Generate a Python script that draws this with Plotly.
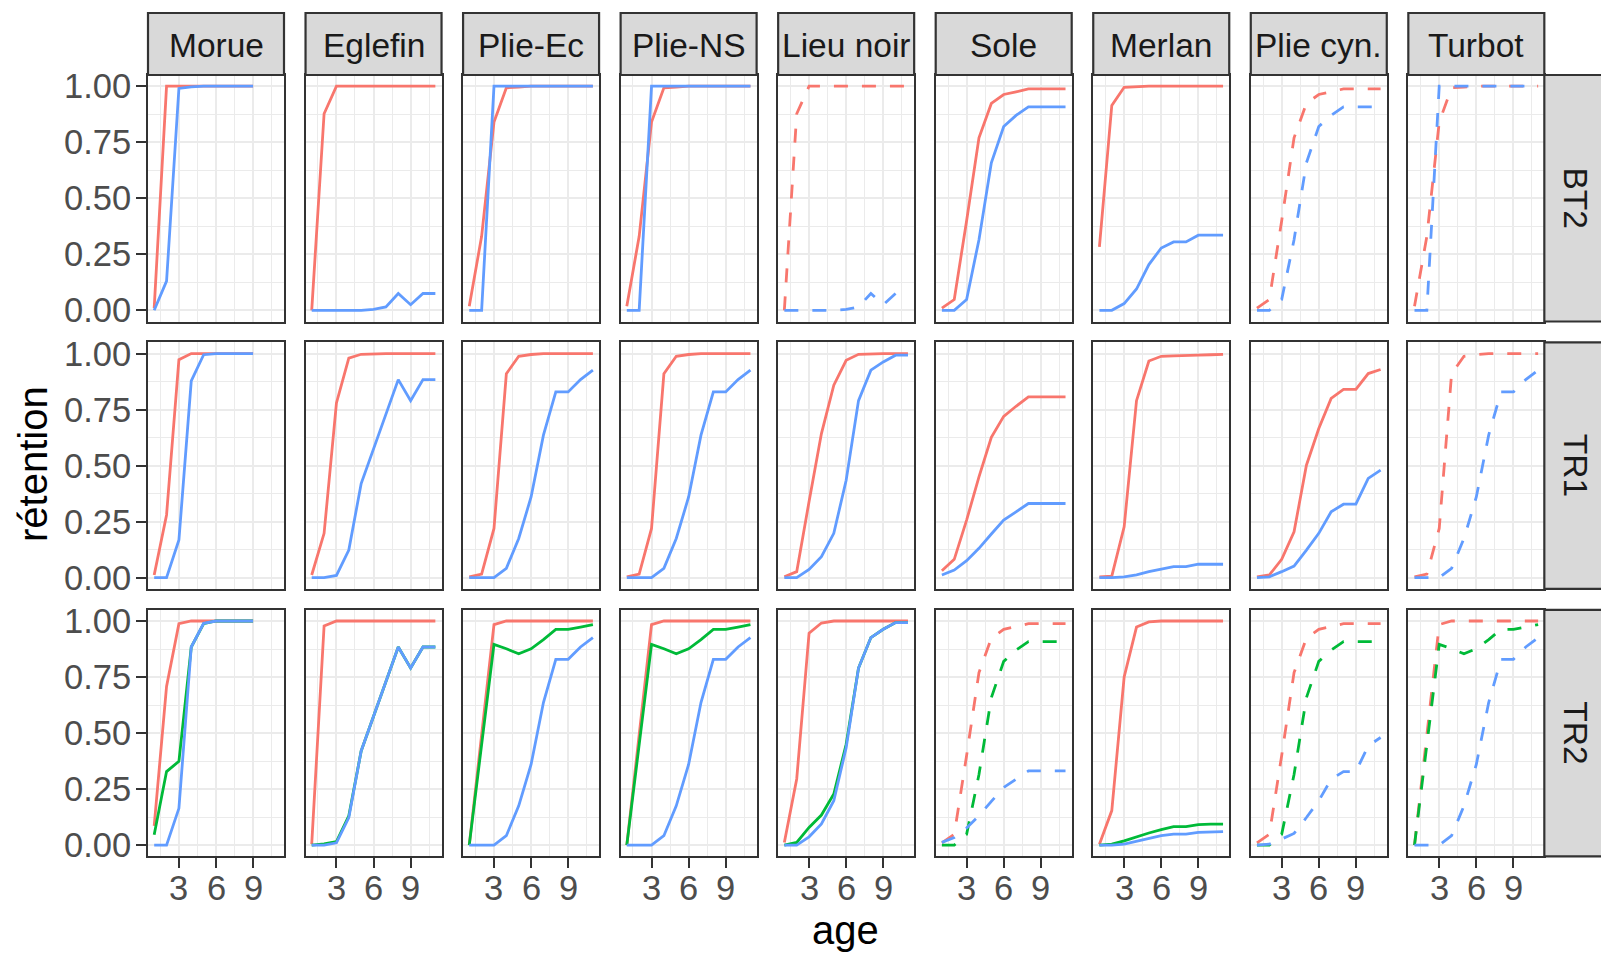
import plotly.graph_objects as go

W, H = 1601, 953

SPECIES = ["Morue", "Eglefin", "Plie-Ec", "Plie-NS", "Lieu noir", "Sole", "Merlan", "Plie cyn.", "Turbot"]
ENGINS = ["BT2", "TR1", "TR2"]
AGE9 = [1, 2, 3, 4, 5, 6, 7, 8, 9]
AGE11 = [1, 2, 3, 4, 5, 6, 7, 8, 9, 10, 11]
X_TICKS = [3, 6, 9]
X_TICK_LABELS = ["3", "6", "9"]
Y_TICKS = [0, 0.25, 0.5, 0.75, 1.0]
Y_TICK_LABELS = ["0.00", "0.25", "0.50", "0.75", "1.00"]

RED, GREEN, BLUE = "#F8766D", "#00BA38", "#619CFF"

# ---- Morue (ages 1-9)
MORUE_BT2_R = [0.01, 1.0, 1.0, 1.0, 1.0, 1.0, 1.0, 1.0, 1.0]
MORUE_BT2_B = [0.0, 0.13, 0.99, 0.997, 1.0, 1.0, 1.0, 1.0, 1.0]
MORUE_TR1_R = [0.012, 0.28, 0.973, 1.0, 1.0, 1.0, 1.0, 1.0, 1.0]
MORUE_TR1_B = [0.0, 0.0, 0.168, 0.878, 0.995, 1.0, 1.0, 1.0, 1.0]
MORUE_TR2_R = [0.086, 0.708, 0.988, 1.0, 1.0, 1.0, 1.0, 1.0, 1.0]
MORUE_TR2_G = [0.046, 0.328, 0.374, 0.884, 0.988, 1.0, 1.0, 1.0, 1.0]
MORUE_TR2_B = [0.0, 0.0, 0.164, 0.884, 0.99, 1.0, 1.0, 1.0, 1.0]

# ---- Eglefin
EGLEFIN_BT2_R = [0.0, 0.877, 1.0, 1.0, 1.0, 1.0, 1.0, 1.0, 1.0, 1.0, 1.0]
EGLEFIN_BT2_B = [0.0, 0.0, 0.0, 0.0, 0.0, 0.004, 0.015, 0.075, 0.025, 0.075, 0.075]
EGLEFIN_TR1_R = [0.012, 0.198, 0.78, 0.98, 0.997, 1.0, 1.0, 1.0, 1.0, 1.0, 1.0]
EGLEFIN_TR1_B = [0.0, 0.0, 0.01, 0.123, 0.42, 0.575, 0.73, 0.884, 0.79, 0.884, 0.884]
EGLEFIN_TR2_R = [0.004, 0.978, 1.0, 1.0, 1.0, 1.0, 1.0, 1.0, 1.0, 1.0, 1.0]
EGLEFIN_TR2_G = [0.0, 0.005, 0.016, 0.131, 0.42, 0.575, 0.73, 0.884, 0.79, 0.884, 0.884]
EGLEFIN_TR2_B = [0.0, 0.0, 0.01, 0.123, 0.42, 0.575, 0.73, 0.884, 0.79, 0.884, 0.884]

# ---- Plie-Ec
PLIEEC_BT2_R = [0.018, 0.33, 0.84, 0.993, 0.996, 1.0, 1.0, 1.0, 1.0, 1.0, 1.0]
PLIEEC_BT2_B = [0.0, 0.0, 1.0, 1.0, 1.0, 1.0, 1.0, 1.0, 1.0, 1.0, 1.0]
PLIEEC_TR1_R = [0.004, 0.016, 0.22, 0.91, 0.988, 0.996, 1.0, 1.0, 1.0, 1.0, 1.0]
PLIEEC_TR1_B = [0.0, 0.0, 0.0, 0.042, 0.175, 0.36, 0.636, 0.829, 0.829, 0.884, 0.926]
PLIEEC_TR2_R = [0.0, 0.49, 0.984, 1.0, 1.0, 1.0, 1.0, 1.0, 1.0, 1.0, 1.0]
PLIEEC_TR2_G = [0.0, 0.45, 0.896, 0.876, 0.854, 0.876, 0.917, 0.963, 0.963, 0.973, 0.984]
PLIEEC_TR2_B = [0.0, 0.0, 0.0, 0.042, 0.175, 0.36, 0.636, 0.829, 0.829, 0.884, 0.926]

# ---- Plie-NS
PLIENS_BT2_R = [0.018, 0.33, 0.84, 0.993, 0.996, 1.0, 1.0, 1.0, 1.0, 1.0, 1.0]
PLIENS_BT2_B = [0.0, 0.0, 1.0, 1.0, 1.0, 1.0, 1.0, 1.0, 1.0, 1.0, 1.0]
PLIENS_TR1_R = [0.004, 0.016, 0.22, 0.91, 0.988, 0.996, 1.0, 1.0, 1.0, 1.0, 1.0]
PLIENS_TR1_B = [0.0, 0.0, 0.0, 0.042, 0.175, 0.36, 0.636, 0.829, 0.829, 0.884, 0.926]
PLIENS_TR2_R = [0.0, 0.49, 0.984, 1.0, 1.0, 1.0, 1.0, 1.0, 1.0, 1.0, 1.0]
PLIENS_TR2_G = [0.0, 0.45, 0.896, 0.876, 0.854, 0.876, 0.917, 0.963, 0.963, 0.973, 0.984]
PLIENS_TR2_B = [0.0, 0.0, 0.0, 0.042, 0.175, 0.36, 0.636, 0.829, 0.829, 0.884, 0.926]

# ---- Lieu noir
LIEU_BT2_R = [0.0, 0.877, 1.0, 1.0, 1.0, 1.0, 1.0, 1.0, 1.0, 1.0, 1.0]
LIEU_BT2_B = [0.0, 0.0, 0.0, 0.0, 0.0, 0.004, 0.015, 0.075, 0.025, 0.075, 0.075]
LIEU_TR1_R = [0.004, 0.027, 0.34, 0.643, 0.859, 0.97, 0.997, 1.0, 1.0, 1.0, 1.0]
LIEU_TR1_B = [0.0, 0.0, 0.037, 0.094, 0.198, 0.435, 0.79, 0.926, 0.963, 0.993, 0.993]
LIEU_TR2_R = [0.012, 0.295, 0.946, 0.991, 1.0, 1.0, 1.0, 1.0, 1.0, 1.0, 1.0]
LIEU_TR2_G = [0.0, 0.012, 0.079, 0.134, 0.228, 0.45, 0.79, 0.926, 0.963, 0.993, 0.993]
LIEU_TR2_B = [0.0, 0.0, 0.037, 0.094, 0.198, 0.435, 0.79, 0.926, 0.963, 0.993, 0.993]

# ---- Sole
SOLE_BT2_R = [0.01, 0.048, 0.40, 0.77, 0.923, 0.963, 0.975, 0.988, 0.988, 0.988, 0.988]
SOLE_BT2_B = [0.0, 0.0, 0.048, 0.315, 0.658, 0.82, 0.87, 0.908, 0.908, 0.908, 0.908]
SOLE_TR1_R = [0.031, 0.082, 0.257, 0.45, 0.626, 0.72, 0.765, 0.807, 0.807, 0.807, 0.807]
SOLE_TR1_B = [0.012, 0.034, 0.076, 0.131, 0.195, 0.257, 0.294, 0.331, 0.331, 0.331, 0.331]
SOLE_TR2_R = [0.01, 0.048, 0.40, 0.77, 0.923, 0.963, 0.975, 0.988, 0.988, 0.988, 0.988]
SOLE_TR2_G = [0.0, 0.0, 0.048, 0.315, 0.658, 0.82, 0.87, 0.908, 0.908, 0.908, 0.908]
SOLE_TR2_B = [0.012, 0.034, 0.076, 0.131, 0.195, 0.257, 0.294, 0.331, 0.331, 0.331, 0.331]

# ---- Merlan
MERLAN_BT2_R = [0.283, 0.914, 0.995, 0.998, 1.0, 1.0, 1.0, 1.0, 1.0, 1.0, 1.0]
MERLAN_BT2_B = [0.0, 0.0, 0.03, 0.095, 0.204, 0.278, 0.305, 0.305, 0.335, 0.335, 0.335]
MERLAN_TR1_R = [0.004, 0.007, 0.227, 0.79, 0.967, 0.988, 0.99, 0.993, 0.993, 0.995, 0.997]
MERLAN_TR1_B = [0.0, 0.0, 0.004, 0.013, 0.027, 0.037, 0.049, 0.049, 0.06, 0.06, 0.06]
MERLAN_TR2_R = [0.004, 0.154, 0.75, 0.973, 0.996, 1.0, 1.0, 1.0, 1.0, 1.0, 1.0]
MERLAN_TR2_G = [0.0, 0.004, 0.019, 0.037, 0.054, 0.069, 0.082, 0.082, 0.091, 0.094, 0.094]
MERLAN_TR2_B = [0.0, 0.0, 0.004, 0.016, 0.03, 0.042, 0.049, 0.049, 0.057, 0.06, 0.06]

# ---- Plie cyn.
PLIECYN_BT2_R = [0.01, 0.048, 0.40, 0.77, 0.923, 0.963, 0.975, 0.988, 0.988, 0.988, 0.988]
PLIECYN_BT2_B = [0.0, 0.0, 0.048, 0.315, 0.658, 0.82, 0.87, 0.908, 0.908, 0.908, 0.908]
PLIECYN_TR1_R = [0.004, 0.012, 0.082, 0.205, 0.502, 0.666, 0.8, 0.84, 0.84, 0.911, 0.929]
PLIECYN_TR1_B = [0.0, 0.004, 0.027, 0.052, 0.123, 0.198, 0.294, 0.328, 0.328, 0.443, 0.48]
PLIECYN_TR2_R = [0.01, 0.048, 0.40, 0.77, 0.923, 0.963, 0.975, 0.988, 0.988, 0.988, 0.988]
PLIECYN_TR2_G = [0.0, 0.0, 0.048, 0.315, 0.658, 0.82, 0.87, 0.908, 0.908, 0.908, 0.908]
PLIECYN_TR2_B = [0.0, 0.004, 0.027, 0.052, 0.123, 0.198, 0.294, 0.328, 0.328, 0.443, 0.48]

# ---- Turbot
TURBOT_BT2_R = [0.018, 0.33, 0.84, 0.993, 0.996, 1.0, 1.0, 1.0, 1.0, 1.0, 1.0]
TURBOT_BT2_B = [0.0, 0.0, 1.0, 1.0, 1.0, 1.0, 1.0, 1.0, 1.0, 1.0, 1.0]
TURBOT_TR1_R = [0.004, 0.016, 0.22, 0.91, 0.988, 0.996, 1.0, 1.0, 1.0, 1.0, 1.0]
TURBOT_TR1_B = [0.0, 0.0, 0.0, 0.042, 0.175, 0.36, 0.636, 0.829, 0.829, 0.884, 0.926]
TURBOT_TR2_R = [0.0, 0.49, 0.984, 1.0, 1.0, 1.0, 1.0, 1.0, 1.0, 1.0, 1.0]
TURBOT_TR2_G = [0.0, 0.45, 0.896, 0.876, 0.854, 0.876, 0.917, 0.963, 0.963, 0.973, 0.984]
TURBOT_TR2_B = [0.0, 0.0, 0.0, 0.042, 0.175, 0.36, 0.636, 0.829, 0.829, 0.884, 0.926]

# (row, col) -> (ages, dashed, [(color, values)])
PANELS = {
    (0, 0): (AGE9, False, [(RED, MORUE_BT2_R), (BLUE, MORUE_BT2_B)]),
    (1, 0): (AGE9, False, [(RED, MORUE_TR1_R), (BLUE, MORUE_TR1_B)]),
    (2, 0): (AGE9, False, [(RED, MORUE_TR2_R), (GREEN, MORUE_TR2_G), (BLUE, MORUE_TR2_B)]),
    (0, 1): (AGE11, False, [(RED, EGLEFIN_BT2_R), (BLUE, EGLEFIN_BT2_B)]),
    (1, 1): (AGE11, False, [(RED, EGLEFIN_TR1_R), (BLUE, EGLEFIN_TR1_B)]),
    (2, 1): (AGE11, False, [(RED, EGLEFIN_TR2_R), (GREEN, EGLEFIN_TR2_G), (BLUE, EGLEFIN_TR2_B)]),
    (0, 2): (AGE11, False, [(RED, PLIEEC_BT2_R), (BLUE, PLIEEC_BT2_B)]),
    (1, 2): (AGE11, False, [(RED, PLIEEC_TR1_R), (BLUE, PLIEEC_TR1_B)]),
    (2, 2): (AGE11, False, [(RED, PLIEEC_TR2_R), (GREEN, PLIEEC_TR2_G), (BLUE, PLIEEC_TR2_B)]),
    (0, 3): (AGE11, False, [(RED, PLIENS_BT2_R), (BLUE, PLIENS_BT2_B)]),
    (1, 3): (AGE11, False, [(RED, PLIENS_TR1_R), (BLUE, PLIENS_TR1_B)]),
    (2, 3): (AGE11, False, [(RED, PLIENS_TR2_R), (GREEN, PLIENS_TR2_G), (BLUE, PLIENS_TR2_B)]),
    (0, 4): (AGE11, True, [(RED, LIEU_BT2_R), (BLUE, LIEU_BT2_B)]),
    (1, 4): (AGE11, False, [(RED, LIEU_TR1_R), (BLUE, LIEU_TR1_B)]),
    (2, 4): (AGE11, False, [(RED, LIEU_TR2_R), (GREEN, LIEU_TR2_G), (BLUE, LIEU_TR2_B)]),
    (0, 5): (AGE11, False, [(RED, SOLE_BT2_R), (BLUE, SOLE_BT2_B)]),
    (1, 5): (AGE11, False, [(RED, SOLE_TR1_R), (BLUE, SOLE_TR1_B)]),
    (2, 5): (AGE11, True, [(RED, SOLE_TR2_R), (GREEN, SOLE_TR2_G), (BLUE, SOLE_TR2_B)]),
    (0, 6): (AGE11, False, [(RED, MERLAN_BT2_R), (BLUE, MERLAN_BT2_B)]),
    (1, 6): (AGE11, False, [(RED, MERLAN_TR1_R), (BLUE, MERLAN_TR1_B)]),
    (2, 6): (AGE11, False, [(RED, MERLAN_TR2_R), (GREEN, MERLAN_TR2_G), (BLUE, MERLAN_TR2_B)]),
    (0, 7): (AGE11, True, [(RED, PLIECYN_BT2_R), (BLUE, PLIECYN_BT2_B)]),
    (1, 7): (AGE11, False, [(RED, PLIECYN_TR1_R), (BLUE, PLIECYN_TR1_B)]),
    (2, 7): (AGE11, True, [(RED, PLIECYN_TR2_R), (GREEN, PLIECYN_TR2_G), (BLUE, PLIECYN_TR2_B)]),
    (0, 8): (AGE11, True, [(RED, TURBOT_BT2_R), (BLUE, TURBOT_BT2_B)]),
    (1, 8): (AGE11, True, [(RED, TURBOT_TR1_R), (BLUE, TURBOT_TR1_B)]),
    (2, 8): (AGE11, True, [(RED, TURBOT_TR2_R), (GREEN, TURBOT_TR2_G), (BLUE, TURBOT_TR2_B)]),
}

# ---- layout geometry (pixels)
COL_LEFT0, COL_PITCH, PANEL_W = 148.0, 157.54, 136.0
ROW_TOP0, ROW_PITCH, PANEL_H = 75.0, 267.4, 246.5
STRIP_TOP = 13.0
STRIP_RIGHT_W = 66.0
Y_LABEL_RIGHT = 133.0
X_LABEL_CENTER = 888.0

FONT = "Liberation Sans, Arial, sans-serif"
GRID = "#EBEBEB"
BORDER = "#333333"
TICK_COLOR = "#4D4D4D"
TICK_SIZE = 34.5
STRIP_SIZE = 33.5
TITLE_SIZE = 40

fig = go.Figure()
layout = dict(
    width=W, height=H,
    margin=dict(l=0, r=0, t=0, b=0, pad=0, autoexpand=False),
    paper_bgcolor="white", plot_bgcolor="white",
    showlegend=False,
    font=dict(family=FONT),
)
shapes = []
annotations = []


def px_x(p):
    return p / W


def px_y(p):
    return 1 - p / H


for r in range(3):
    for c in range(9):
        k = r * 9 + c + 1
        left = COL_LEFT0 + c * COL_PITCH
        top = ROW_TOP0 + r * ROW_PITCH
        xa = "xaxis" if k == 1 else f"xaxis{k}"
        ya = "yaxis" if k == 1 else f"yaxis{k}"
        xref = "x" if k == 1 else f"x{k}"
        yref = "y" if k == 1 else f"y{k}"
        bottom_row = (r == 2)
        first_col = (c == 0)
        layout[xa] = dict(
            domain=[px_x(left), px_x(left + PANEL_W)],
            anchor=yref, range=[0.5, 11.5], automargin=False,
            tickvals=X_TICKS, showticklabels=False,
            ticks="outside" if bottom_row else "",
            ticklen=10, tickwidth=2.4, tickcolor=BORDER,
            showgrid=True, gridcolor=GRID, gridwidth=2.4,
            minor=dict(tickvals=[1.5, 4.5, 7.5, 10.5], showgrid=True, gridcolor=GRID, gridwidth=1.2),
            zeroline=False, showline=True, mirror=True, linecolor=BORDER, linewidth=2.2,
            fixedrange=True,
        )
        layout[ya] = dict(
            domain=[px_y(top + PANEL_H), px_y(top)],
            anchor=xref, range=[-0.05, 1.05], automargin=False,
            tickvals=Y_TICKS, showticklabels=False,
            ticks="outside" if first_col else "",
            ticklen=10, tickwidth=2.4, tickcolor=BORDER,
            showgrid=True, gridcolor=GRID, gridwidth=2.4,
            minor=dict(tickvals=[0.125, 0.375, 0.625, 0.875], showgrid=True, gridcolor=GRID, gridwidth=1.2),
            zeroline=False, showline=True, mirror=True, linecolor=BORDER, linewidth=2.2,
            fixedrange=True,
        )
        ages, dashed, series = PANELS[(r, c)]
        for color, vals in series:
            fig.add_trace(go.Scatter(
                x=ages, y=vals, mode="lines", xaxis=xref, yaxis=yref,
                line=dict(color=color, width=2.8, dash="14px,14px" if dashed else "solid"),
                hoverinfo="skip",
            ))
        # tick labels as text placed at the axis tick values
        if first_col:
            for v, lab in zip(Y_TICKS, Y_TICK_LABELS):
                annotations.append(dict(text=lab, xref="paper", yref=yref, x=px_x(Y_LABEL_RIGHT), y=v,
                                        xanchor="right", yanchor="middle", showarrow=False,
                                        font=dict(size=TICK_SIZE, color=TICK_COLOR, family=FONT)))
        if bottom_row:
            for v, lab in zip(X_TICKS, X_TICK_LABELS):
                annotations.append(dict(text=lab, xref=xref, yref="paper", x=v, y=px_y(X_LABEL_CENTER),
                                        xanchor="center", yanchor="middle", showarrow=False,
                                        font=dict(size=TICK_SIZE, color=TICK_COLOR, family=FONT)))

# top strips
for c, name in enumerate(SPECIES):
    left = COL_LEFT0 + c * COL_PITCH
    shapes.append(dict(type="rect", xref="paper", yref="paper",
                       x0=px_x(left), x1=px_x(left + PANEL_W), y0=px_y(ROW_TOP0), y1=px_y(STRIP_TOP),
                       fillcolor="#D9D9D9", line=dict(color=BORDER, width=2.2), layer="above"))
    annotations.append(dict(text=name, xref="paper", yref="paper",
                            x=px_x(left + PANEL_W / 2), y=px_y((STRIP_TOP + ROW_TOP0) / 2 + 1),
                            xanchor="center", yanchor="middle", showarrow=False,
                            font=dict(size=STRIP_SIZE, color="#1A1A1A", family=FONT)))

# right strips
right_edge = COL_LEFT0 + 8 * COL_PITCH + PANEL_W
for r, name in enumerate(ENGINS):
    top = ROW_TOP0 + r * ROW_PITCH
    shapes.append(dict(type="rect", xref="paper", yref="paper",
                       x0=px_x(right_edge), x1=px_x(right_edge + STRIP_RIGHT_W),
                       y0=px_y(top + PANEL_H), y1=px_y(top),
                       fillcolor="#D9D9D9", line=dict(color=BORDER, width=2.2), layer="above"))
    annotations.append(dict(text=name, xref="paper", yref="paper",
                            x=px_x(right_edge + 31.5), y=px_y(top + PANEL_H / 2),
                            xanchor="center", yanchor="middle", showarrow=False, textangle=90,
                            font=dict(size=STRIP_SIZE, color="#1A1A1A", family=FONT)))

# axis titles
annotations.append(dict(text="age", xref="paper", yref="paper", x=px_x(845), y=px_y(930),
                        xanchor="center", yanchor="middle", showarrow=False,
                        font=dict(size=TITLE_SIZE, color="black", family=FONT)))
annotations.append(dict(text="rétention", xref="paper", yref="paper", x=px_x(33), y=px_y(464),
                        xanchor="center", yanchor="middle", showarrow=False, textangle=-90,
                        font=dict(size=TITLE_SIZE, color="black", family=FONT)))

layout["shapes"] = shapes
layout["annotations"] = annotations
fig.update_layout(**layout)
fig.write_html("out.html")
